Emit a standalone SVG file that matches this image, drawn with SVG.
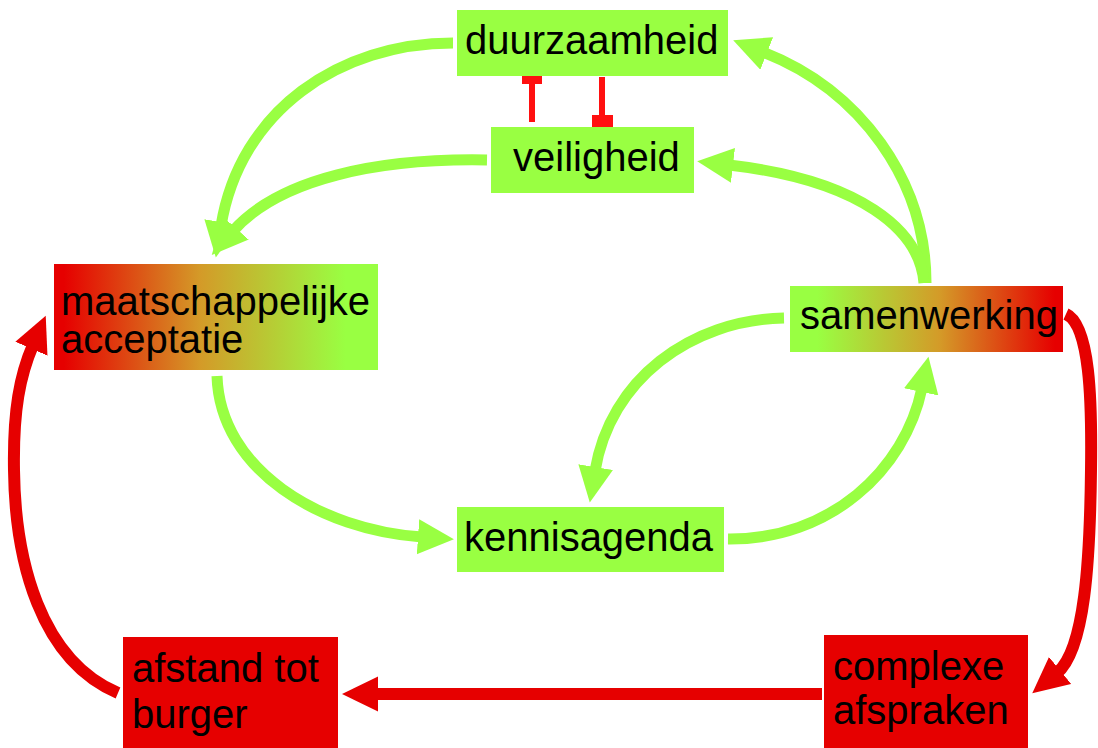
<svg xmlns="http://www.w3.org/2000/svg" width="1098" height="748" viewBox="0 0 1098 748">
<style>
  text { font-family: "Liberation Sans", Arial, sans-serif; font-size: 40px; fill: #000; }
  .g { fill: #99ff42; }
  .r { fill: #e60000; }
  .cg { fill: none; stroke: #99ff42; stroke-width: 11; marker-end: url(#ag); }
  .cr { fill: none; stroke: #e60000; stroke-width: 12; marker-end: url(#ar); }
  .tb { stroke: #ff1010; stroke-width: 6; }
  .tc { fill: #ff1010; }
</style>
<defs>
  <linearGradient id="gradRG" x1="0" y1="0" x2="1" y2="0">
    <stop offset="0.03" stop-color="#e60000"/>
    <stop offset="0.45" stop-color="#d49a28"/>
    <stop offset="0.9" stop-color="#99ff42"/>
  </linearGradient>
  <linearGradient id="gradGR" x1="0" y1="0" x2="1" y2="0">
    <stop offset="0.1" stop-color="#99ff42"/>
    <stop offset="0.55" stop-color="#d49a28"/>
    <stop offset="0.97" stop-color="#e60000"/>
  </linearGradient>
  <marker id="ag" markerUnits="userSpaceOnUse" markerWidth="40" markerHeight="40" refX="4" refY="17.5" orient="auto">
    <path d="M0,0 L36,17.5 L0,35 Z" fill="#99ff42"/>
  </marker>
  <marker id="ar" markerUnits="userSpaceOnUse" markerWidth="40" markerHeight="40" refX="4" refY="17.5" orient="auto">
    <path d="M0,0 L36,17.5 L0,35 Z" fill="#e60000"/>
  </marker>
</defs>

<g id="connectors">
  <path class="cg" d="M453,43 C340,43 240,110 221,226"/>
  <path class="cg" d="M487,160 C380,158 280,178 233,231"/>
  <path class="cg" d="M926,283 C926,180 860,90 763,52"/>
  <path class="cg" d="M924,283 C920,230 860,180 729,165"/>
  <path class="cg" d="M217,376 C220,470 320,530 422,537"/>
  <path class="cg" d="M728,539 C830,540 905,470 922,388"/>
  <path class="cg" d="M784,318 C690,320 610,380 595,471"/>
  <path class="cr" d="M1066,314 C1090,325 1092,400 1091,470 C1090,560 1085,650 1057,673"/>
  <path class="cr" d="M822,694 L374,694"/>
  <path class="cr" d="M118,693 C40,660 15,560 14,470 C13,410 20,375 33,345"/>
  <line class="tb" x1="532" y1="84" x2="532" y2="122"/>
  <rect class="tc" x="522" y="73" width="20" height="11"/>
  <line class="tb" x1="602" y1="77" x2="602" y2="116"/>
  <rect class="tc" x="592" y="115" width="21" height="12"/>
</g>

<g id="duurzaamheid">
  <rect class="g" x="457" y="10" width="271" height="66"/>
  <text x="465" y="54">duurzaamheid</text>
</g>
<g id="veiligheid">
  <rect class="g" x="491" y="127" width="203" height="66"/>
  <text x="513" y="171">veiligheid</text>
</g>
<g id="maatschappelijke-acceptatie">
  <rect x="54" y="264" width="324" height="106" fill="url(#gradRG)"/>
  <text x="61" y="315">maatschappelijke</text>
  <text x="61" y="353">acceptatie</text>
</g>
<g id="samenwerking">
  <rect x="790" y="286" width="273" height="66" fill="url(#gradGR)"/>
  <text x="800" y="329">samenwerking</text>
</g>
<g id="kennisagenda">
  <rect class="g" x="457" y="507" width="267" height="65"/>
  <text x="464" y="551">kennisagenda</text>
</g>
<g id="afstand-tot-burger">
  <rect class="r" x="123" y="637" width="215" height="111"/>
  <text x="132" y="682">afstand tot</text>
  <text x="132" y="728">burger</text>
</g>
<g id="complexe-afspraken">
  <rect class="r" x="824" y="635" width="204" height="113"/>
  <text x="833" y="680">complexe</text>
  <text x="833" y="724">afspraken</text>
</g>
</svg>
